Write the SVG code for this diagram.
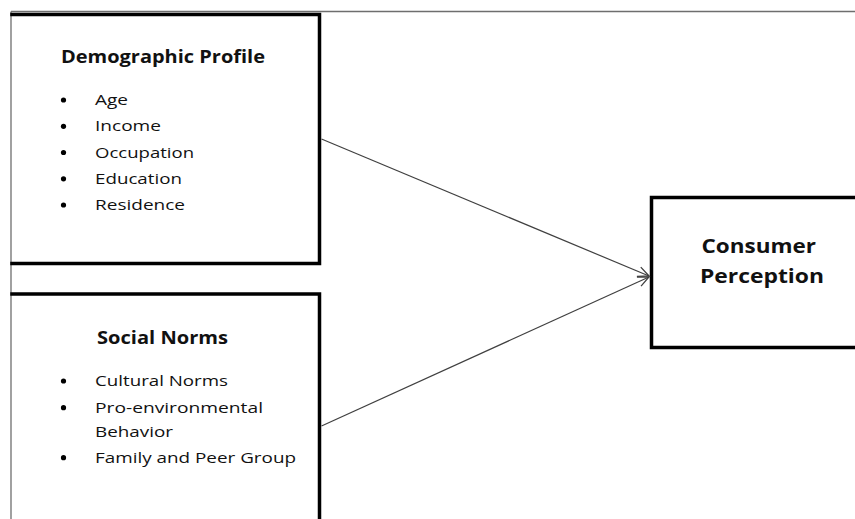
<svg xmlns="http://www.w3.org/2000/svg" width="855" height="519" viewBox="0 0 855 519">
  <style>
    .thin { stroke: #6e6e6e; stroke-width: 1.3; fill: none; }
    .edge { stroke: #000; stroke-width: 3.5; fill: none; stroke-linecap: square; }
    .conn { stroke: #404040; stroke-width: 1.2; fill: none; }
    .title { font-family: "Open Sans", "Liberation Sans", sans-serif; font-weight: bold; font-size: 17.5px; fill: #111; }
    .item { font-family: "Open Sans", "Liberation Sans", sans-serif; font-size: 15px; fill: #111; }
    .big { font-family: "Open Sans", "Liberation Sans", sans-serif; font-weight: bold; font-size: 19.5px; fill: #111; }
    .bullet { fill: #000; }
  </style>
  <defs>
    <marker id="head" markerUnits="userSpaceOnUse" markerWidth="14" markerHeight="14" refX="12" refY="6" orient="auto">
      <path d="M1,1 L12,6 L1,11" fill="none" stroke="#404040" stroke-width="1.3"/>
    </marker>
  </defs>
  <rect width="855" height="519" fill="#fff"/>

  <!-- frame lines -->
  <line class="thin" x1="11" y1="11.5" x2="855" y2="11.5"/>
  <line class="thin" x1="11" y1="11.5" x2="11" y2="519"/>

  <g id="demographic-profile">
    <path class="edge" d="M12,14.5 H319.5 V263.5 H12"/>
    <text class="title" x="61" y="63" textLength="204" lengthAdjust="spacingAndGlyphs">Demographic Profile</text>
    <circle class="bullet" cx="63.5" cy="100" r="2.6"/>
    <text class="item" x="95" y="105" textLength="33" lengthAdjust="spacingAndGlyphs">Age</text>
    <circle class="bullet" cx="63.5" cy="126.3" r="2.6"/>
    <text class="item" x="95" y="131.3" textLength="66" lengthAdjust="spacingAndGlyphs">Income</text>
    <circle class="bullet" cx="63.5" cy="152.5" r="2.6"/>
    <text class="item" x="95" y="157.5" textLength="99" lengthAdjust="spacingAndGlyphs">Occupation</text>
    <circle class="bullet" cx="63.5" cy="178.8" r="2.6"/>
    <text class="item" x="95" y="183.8" textLength="87" lengthAdjust="spacingAndGlyphs">Education</text>
    <circle class="bullet" cx="63.5" cy="205" r="2.6"/>
    <text class="item" x="95" y="210" textLength="90" lengthAdjust="spacingAndGlyphs">Residence</text>
  </g>

  <g id="social-norms">
    <path class="edge" d="M12,294 H319.5 V521"/>
    <text class="title" x="97" y="343.5" textLength="131" lengthAdjust="spacingAndGlyphs">Social Norms</text>
    <circle class="bullet" cx="63.5" cy="381" r="2.6"/>
    <text class="item" x="95" y="386" textLength="133" lengthAdjust="spacingAndGlyphs">Cultural Norms</text>
    <circle class="bullet" cx="63.5" cy="407.7" r="2.6"/>
    <text class="item" x="95" y="412.7" textLength="168" lengthAdjust="spacingAndGlyphs">Pro-environmental</text>
    <text class="item" x="95" y="437.3" textLength="78" lengthAdjust="spacingAndGlyphs">Behavior</text>
    <circle class="bullet" cx="63.5" cy="457.7" r="2.6"/>
    <text class="item" x="95" y="462.7" textLength="201" lengthAdjust="spacingAndGlyphs">Family and Peer Group</text>
  </g>

  <g id="consumer-perception">
    <path class="edge" d="M857,197.5 H651.5 V347.5 H857"/>
    <text class="big" x="701.5" y="253" textLength="114.5" lengthAdjust="spacingAndGlyphs">Consumer</text>
    <text class="big" x="700" y="283" textLength="124" lengthAdjust="spacingAndGlyphs">Perception</text>
  </g>

  <g id="connectors">
    <line class="conn" x1="321.5" y1="139" x2="649" y2="276" marker-end="url(#head)"/>
    <line class="conn" x1="321.5" y1="426" x2="649" y2="277" marker-end="url(#head)"/>
  </g>
</svg>
